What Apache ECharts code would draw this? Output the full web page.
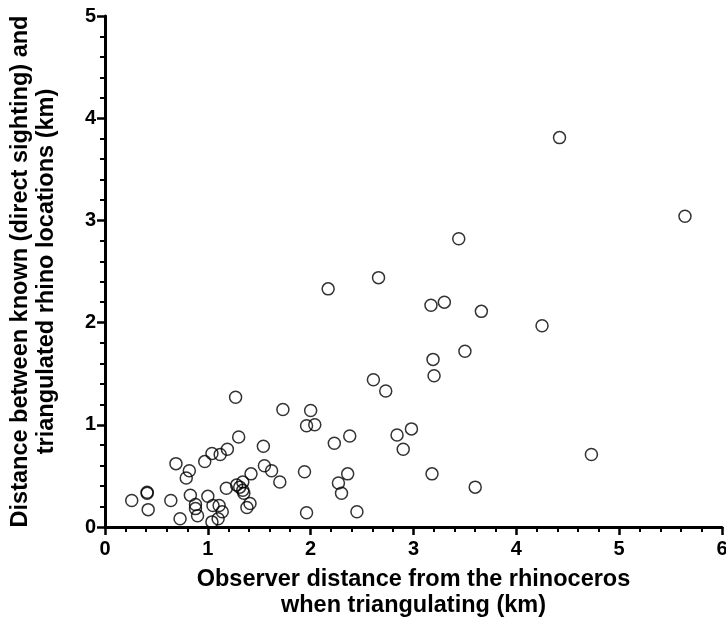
<!DOCTYPE html>
<html>
<head>
<meta charset="utf-8">
<script src="https://cdn.jsdelivr.net/npm/echarts@6/dist/echarts.min.js"></script>
<style>
html,body{margin:0;padding:0;background:#fff;}
#chart{width:726px;height:620px;}
</style>
</head>
<body>
<div id="chart"></div>
<script>
// Observer distance (km)
const xValues = [0.26,0.41,0.41,0.42,0.64,0.69,0.82,0.79,0.73,0.83,0.88,0.88,0.90,0.97,1.04,1.12,1.19,1.00,1.05,1.11,1.14,1.04,1.10,1.18,1.28,1.31,1.34,1.34,1.35,1.42,1.41,1.38,1.27,1.30,1.54,1.55,1.62,1.70,1.73,2.00,1.96,2.04,2.23,2.38,1.94,2.36,2.27,2.30,1.96,2.45,2.17,2.61,2.73,2.66,2.84,2.98,2.90,3.18,3.19,3.20,3.17,3.30,3.44,3.50,3.60,3.66,4.25,4.42,4.73,5.64];
// Distance between known and triangulated locations (km)
const yValues = [0.26,0.34,0.33,0.17,0.26,0.62,0.55,0.48,0.08,0.31,0.22,0.18,0.11,0.64,0.72,0.71,0.76,0.30,0.21,0.21,0.15,0.05,0.08,0.38,0.41,0.39,0.44,0.36,0.33,0.52,0.23,0.19,1.27,0.88,0.79,0.60,0.55,0.44,1.15,1.14,0.99,1.00,0.82,0.89,0.54,0.52,0.43,0.33,0.14,0.15,2.33,1.44,1.33,2.44,0.90,0.96,0.76,0.52,1.64,1.48,2.17,2.20,2.82,1.72,0.39,2.11,1.97,3.81,0.71,3.04];
const xTitle = 'Observer distance from the rhinoceros\nwhen triangulating (km)';
const yTitle = 'Distance between known (direct sighting) and\ntriangulated rhino locations (km)';

const points = xValues.map((x, i) => [x, yValues[i]]);
const font = '"Liberation Sans", Arial, sans-serif';

const axisCommon = {
  type: 'value',
  axisLine: { show: true, onZero: false, lineStyle: { color: '#000', width: 3 } },
  axisTick: { show: true, inside: false, length: 8, lineStyle: { color: '#000', width: 2.5 } },
  minorTick: { show: true, splitNumber: 5, length: 5, lineStyle: { color: '#000', width: 2 } },
  splitLine: { show: false },
  axisLabel: { color: '#000', fontFamily: font, fontWeight: 'bold', fontSize: 20 },
  nameLocation: 'middle',
  nameTextStyle: { color: '#000', fontFamily: font, fontWeight: 'bold', fontSize: 23.5, lineHeight: 26 }
};

const chart = echarts.init(document.getElementById('chart'), null, { renderer: 'canvas' });
chart.setOption({
  animation: false,
  backgroundColor: '#fff',
  grid: { left: 105, right: 4, top: 16, bottom: 93, containLabel: false, outerBoundsMode: 'none' },
  xAxis: Object.assign({}, axisCommon, {
    min: 0, max: 6, interval: 1,
    name: xTitle, nameGap: 40,
    axisLabel: Object.assign({}, axisCommon.axisLabel, { margin: 12 })
  }),
  yAxis: Object.assign({}, axisCommon, {
    min: 0, max: 5, interval: 1,
    name: yTitle, nameGap: 45,
    axisLabel: Object.assign({}, axisCommon.axisLabel, { margin: 9 })
  }),
  series: [{
    type: 'scatter',
    data: points,
    symbol: 'circle',
    symbolSize: 12,
    itemStyle: { color: 'rgba(0,0,0,0)', borderColor: '#000', borderWidth: 1.5 }
  }]
});
</script>
</body>
</html>
